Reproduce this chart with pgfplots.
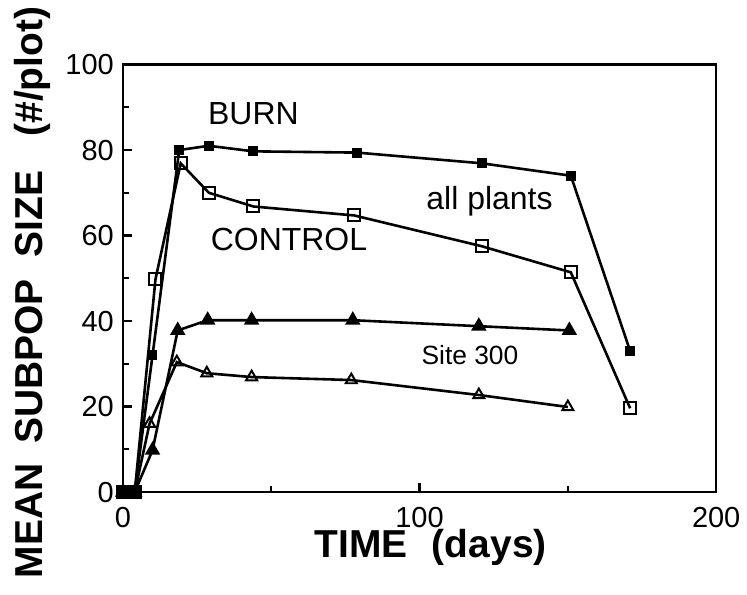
\documentclass[border=0pt]{standalone}
\usepackage{fontspec}
\setmainfont{Liberation Sans}
\usepackage{pgfplots}
\pgfplotsset{compat=1.18}
\begin{document}
\begin{tikzpicture}
\begin{axis}[
  scale only axis, width=297pt, height=214pt,
  xmin=0, xmax=200, ymin=0, ymax=100,
  xtick={0,100,200}, minor xtick={50,150},
  ytick={0,20,...,100}, minor ytick={10,30,...,90},
  tick align=inside, xtick pos=bottom, ytick pos=left,
  major tick length=4.5pt, minor tick length=3pt,
  axis line style={line width=1.2pt},
  every tick/.style={line width=1.1pt, black},
  tick label style={font=\fontsize{14.5}{15}\selectfont},
  /pgf/number format/assume math mode=true,
  xticklabel style={yshift=-4pt},
  yticklabel style={xshift=-1pt},
  clip=false,
  xlabel={\textbf{TIME}\hspace{12pt}\textbf{(days)}},
  xlabel style={font=\fontsize{19.5}{20}\selectfont, at={(axis description cs:0.519,0)}, anchor=base, yshift=-33pt},
  ylabel={\textbf{MEAN\hspace{10pt}SUBPOP\hspace{11pt}SIZE\hspace{17pt}(\#/plot)}},
  ylabel style={font=\fontsize{19.5}{20}\selectfont, at={(axis description cs:0,0.467)}, anchor=base, yshift=40pt},
  every axis plot/.append style={line width=1.3pt, black},
]
% BURN all plants
\addplot[mark=square*, mark size=1.8pt, mark options={solid, fill=black}] coordinates {
 (0,0) (4,0) (10,32) (19,80) (29,81) (44,79.7) (79,79.4) (121,76.9) (151,74) (171,33)};
% CONTROL all plants
\addplot[mark=square, mark size=3pt, mark options={solid, line width=1pt, fill=white}] coordinates {
 (0,0) (4,0) (11,49.8) (19.5,76.9) (29,70) (44,66.8) (78,64.7) (121,57.5) (151,51.4) (171,19.6)};
% BURN site 300
\addplot[mark=triangle*, mark size=3.2pt, mark options={solid, fill=black}] coordinates {
 (0,0) (4,0) (10,9.8) (18.5,37.8) (28.6,40.2) (43.4,40.2) (77.5,40.2) (120,38.8) (150.5,37.8)};
% CONTROL site 300
\addplot[mark=triangle, mark size=3.2pt, mark options={solid, line width=1pt, fill=white}] coordinates {
 (0,0) (4,0) (9,16) (18.2,30.4) (28.3,27.8) (43.4,26.9) (77,26.2) (120,22.7) (150,19.9)};
\node[anchor=base, font=\fontsize{16}{16}\selectfont] at (axis cs:44,86) {BURN};
\node[anchor=base, font=\fontsize{16}{16}\selectfont] at (axis cs:56,56.5) {CONTROL};
\node[anchor=base, font=\fontsize{16}{16}\selectfont] at (axis cs:123.6,66.1) {all plants};
\node[anchor=base, font=\fontsize{13.2}{13}\selectfont] at (axis cs:117,29.9) {Site 300};
\path (rel axis cs:0,0) ++(-61.5pt,-51.5pt);
\path (rel axis cs:1,1) ++(13.5pt,31pt);
\end{axis}
\end{tikzpicture}
\end{document}
